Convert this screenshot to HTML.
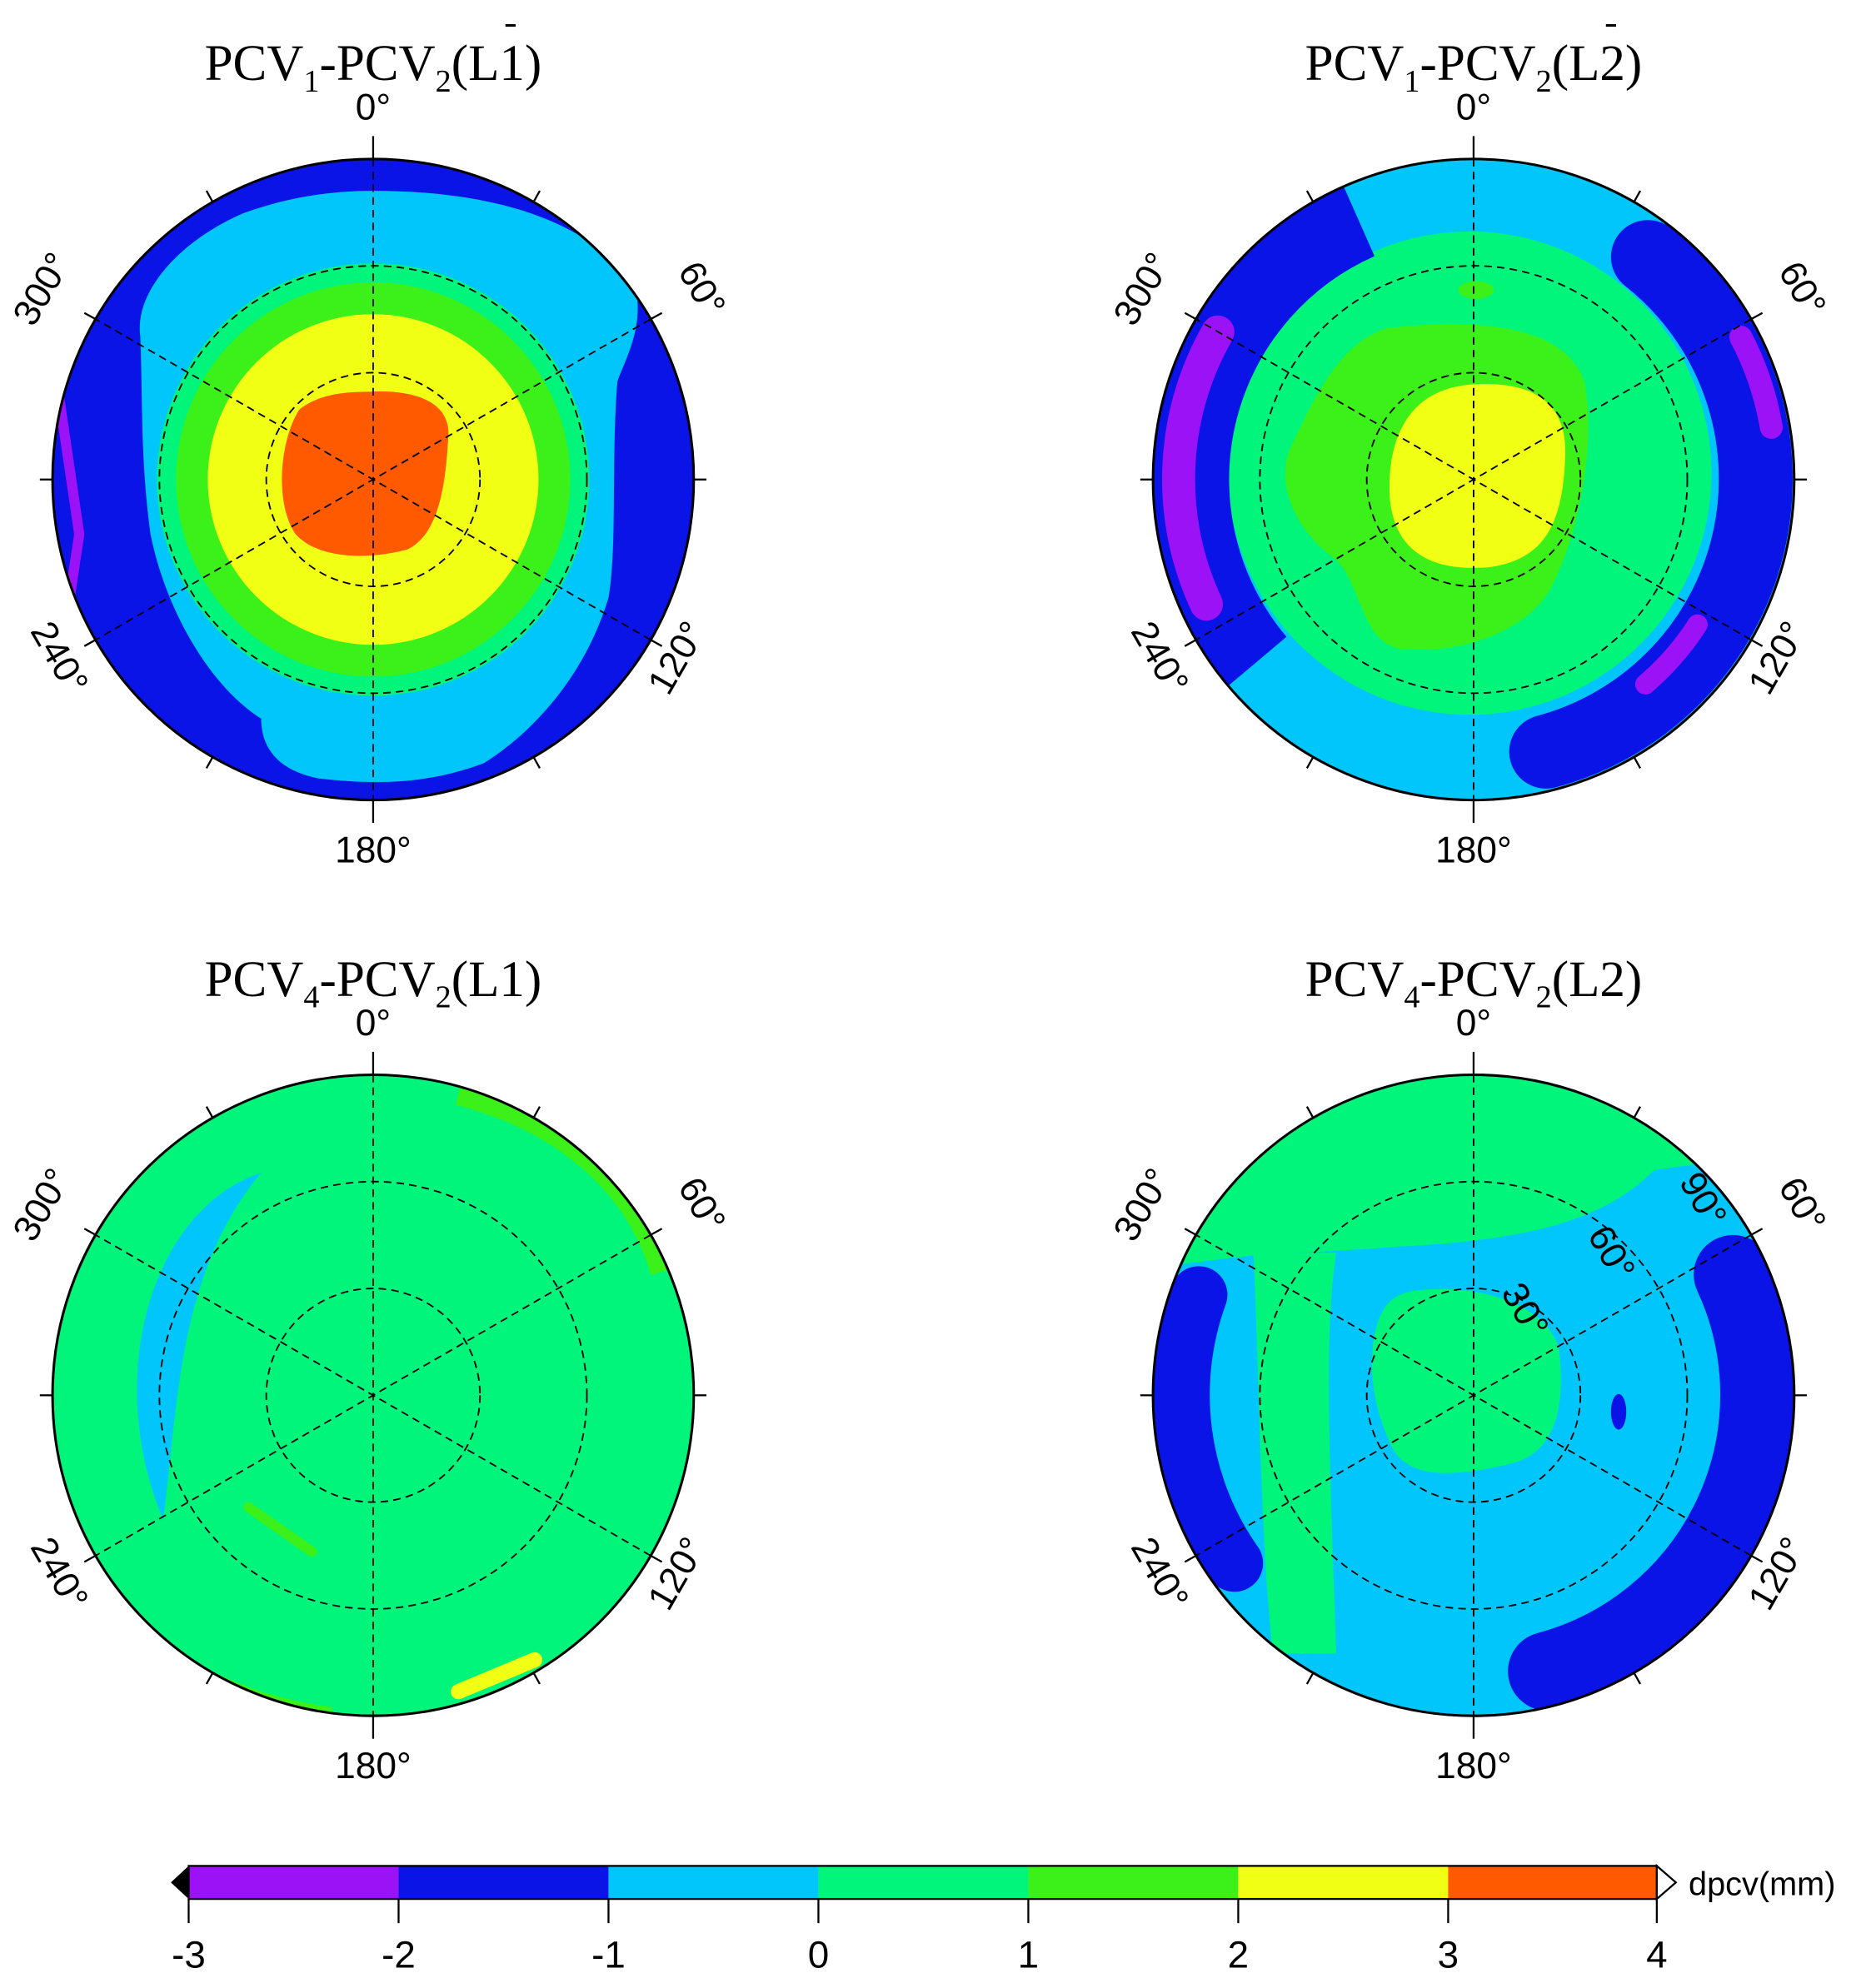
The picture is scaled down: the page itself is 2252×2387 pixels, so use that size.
<!DOCTYPE html>
<html><head><meta charset="utf-8"><style>
html,body{margin:0;padding:0;background:#fff;}
svg{display:block;}
text{font-family:"Liberation Sans",sans-serif;}
.t{font-family:"Liberation Serif",serif;font-size:40px;}
</style></head><body>
<svg width="2252" height="2387" viewBox="0 0 1474 1563" xmlns="http://www.w3.org/2000/svg">
<defs>
<clipPath id="c1"><circle cx="293" cy="377" r="252"/></clipPath>
<clipPath id="c2"><circle cx="1158" cy="377" r="252"/></clipPath>
<clipPath id="c3"><circle cx="293" cy="1097" r="252"/></clipPath>
<clipPath id="c4"><circle cx="1158" cy="1097" r="252"/></clipPath>
<g id="grid" fill="none" stroke="#000">
<circle cx="0" cy="0" r="84" stroke-dasharray="6,4" stroke-width="1.2"/>
<circle cx="0" cy="0" r="168" stroke-dasharray="6,4" stroke-width="1.2"/>
<line x1="0" y1="-252" x2="0" y2="252" stroke-dasharray="6,4" stroke-width="1.2"/>
<line x1="218" y1="-126" x2="-218" y2="126" stroke-dasharray="6,4" stroke-width="1.2"/>
<line x1="218" y1="126" x2="-218" y2="-126" stroke-dasharray="6,4" stroke-width="1.2"/>
<circle cx="0" cy="0" r="252" stroke-width="2"/>
<line x1="0" y1="-252" x2="0" y2="-270" stroke-width="1.5"/>
<line x1="0" y1="252" x2="0" y2="270" stroke-width="1.5"/>
<line x1="252" y1="0" x2="262" y2="0" stroke-width="1.5"/>
<line x1="-252" y1="0" x2="-262" y2="0" stroke-width="1.5"/>
<line x1="126" y1="-218" x2="131" y2="-227" stroke-width="1.5"/>
<line x1="-126" y1="-218" x2="-131" y2="-227" stroke-width="1.5"/>
<line x1="126" y1="218" x2="131" y2="227" stroke-width="1.5"/>
<line x1="-126" y1="218" x2="-131" y2="227" stroke-width="1.5"/>
<line x1="218" y1="-126" x2="227" y2="-131" stroke-width="1.5"/>
<line x1="-218" y1="-126" x2="-227" y2="-131" stroke-width="1.5"/>
<line x1="218" y1="126" x2="227" y2="131" stroke-width="1.5"/>
<line x1="-218" y1="126" x2="-227" y2="131" stroke-width="1.5"/>
</g>
<g id="lab" font-size="29" fill="#000">
<text x="0" y="-283" text-anchor="middle">0°</text>
<text x="0" y="301" text-anchor="middle">180°</text>
<text transform="translate(250,-145) rotate(60)" text-anchor="middle">60°</text>
<text transform="translate(247,145) rotate(-60)" text-anchor="middle">120°</text>
<text transform="translate(-252,-145) rotate(-60)" text-anchor="middle">300°</text>
<text transform="translate(-255,145) rotate(60)" text-anchor="middle">240°</text>
</g>
</defs>

<!-- Panel 1 -->
<g clip-path="url(#c1)">
<rect x="0" y="100" width="600" height="560" fill="#0a14e6"/>
<path d="M40,270 L62,420 L50,500" stroke="#9a12f5" stroke-width="8" fill="none"/>
<path d="M293,150 C390,150 470,175 500,230 C505,260 490,285 485,300 C480,360 485,430 478,470 C460,530 420,575 380,600 C340,615 300,618 250,612 C215,605 205,585 205,565 C165,540 130,480 118,420 C110,360 112,320 110,265 C105,230 140,190 190,168 C225,155 260,150 293,150 Z" fill="#00c6fb"/>
<circle cx="293" cy="377" r="170" fill="#00f57a"/>
<circle cx="293" cy="377" r="155" fill="#3cf01a"/>
<circle cx="293" cy="377" r="130" fill="#f0ff14"/>
<path d="M290,308 C330,306 355,318 352,345 C350,380 345,420 320,432 C290,440 250,440 232,420 C215,395 220,345 235,322 C250,310 270,308 290,308 Z" fill="#ff5a00"/>
</g>
<use href="#grid" x="293" y="377"/>
<use href="#lab" x="293" y="377"/>
<text class="t" x="293" y="63" text-anchor="middle">PCV<tspan font-size="25" dy="9">1</tspan><tspan dy="-9">-PCV</tspan><tspan font-size="25" dy="9">2</tspan><tspan dy="-9">(L1)</tspan></text>
<line x1="397" y1="20" x2="405" y2="20" stroke="#000" stroke-width="2"/>

<!-- Panel 2 -->
<g clip-path="url(#c2)">
<rect x="880" y="100" width="560" height="560" fill="#00c6fb"/>
<circle cx="1155" cy="372" r="190" fill="#00f57a"/>
<path d="M1090,258 C1160,250 1230,255 1245,300 C1255,350 1240,420 1220,460 C1200,500 1140,515 1100,510 C1070,505 1070,460 1050,440 C1020,420 1000,380 1015,350 C1030,320 1050,270 1090,258 Z" fill="#3cf01a"/>
<ellipse cx="1160" cy="228" rx="14" ry="7" fill="#3cf01a"/>
<path d="M1160,302 C1210,300 1232,320 1230,360 C1228,410 1215,440 1170,446 C1120,450 1095,430 1092,390 C1090,340 1110,304 1160,302 Z" fill="#f0ff14"/>
<path d="M1068,174 A222,222 0 0 0 988,520" stroke="#0a14e6" stroke-width="60" fill="none"/>
<path d="M1030,140 L950,180 L905,280" stroke="#0a14e6" stroke-width="30" fill="none"/>
<path d="M957,261 A232,232 0 0 0 948,475" stroke="#9a12f5" stroke-width="26" stroke-linecap="round" fill="none"/>
<path d="M1295,202 A222,222 0 0 1 1215,591" stroke="#0a14e6" stroke-width="58" stroke-linecap="round" fill="none"/>
<path d="M1368,265 A238,238 0 0 1 1392,336" stroke="#9a12f5" stroke-width="18" stroke-linecap="round" fill="none"/>
<path d="M1334,491 A210,210 0 0 1 1293,538" stroke="#9a12f5" stroke-width="16" stroke-linecap="round" fill="none"/>
</g>
<use href="#grid" x="1158" y="377"/>
<use href="#lab" x="1158" y="377"/>
<text class="t" x="1158" y="63" text-anchor="middle">PCV<tspan font-size="25" dy="9">1</tspan><tspan dy="-9">-PCV</tspan><tspan font-size="25" dy="9">2</tspan><tspan dy="-9">(L2)</tspan></text>
<line x1="1262" y1="20" x2="1270" y2="20" stroke="#000" stroke-width="2"/>

<!-- Panel 3 -->
<g clip-path="url(#c3)">
<rect x="0" y="820" width="600" height="560" fill="#00f57a"/>
<path d="M205,922 C120,950 80,1080 128,1195 C140,1100 140,1000 205,922 Z" fill="#00c6fb"/>
<path d="M360,860 C440,880 500,930 520,1000" stroke="#3cf01a" stroke-width="18" fill="none"/>
<path d="M60,1220 C100,1300 180,1340 260,1350" stroke="#3cf01a" stroke-width="16" fill="none"/>
<path d="M195,1185 L245,1220" stroke="#3cf01a" stroke-width="8" stroke-linecap="round"/>
<path d="M360,1330 L420,1305" stroke="#f0ff14" stroke-width="12" stroke-linecap="round"/>
</g>
<use href="#grid" x="293" y="1097"/>
<use href="#lab" x="293" y="1097"/>
<text class="t" x="293" y="783" text-anchor="middle">PCV<tspan font-size="25" dy="9">4</tspan><tspan dy="-9">-PCV</tspan><tspan font-size="25" dy="9">2</tspan><tspan dy="-9">(L1)</tspan></text>

<!-- Panel 4 -->
<g clip-path="url(#c4)">
<rect x="880" y="820" width="560" height="560" fill="#00c6fb"/>
<path d="M880,820 L1440,820 L1440,900 L1300,920 C1260,960 1200,975 1100,980 C1040,985 990,985 960,990 L880,1000 Z" fill="#00f57a"/>
<path d="M985,985 L1050,985 C1040,1050 1045,1150 1050,1300 L1000,1300 C990,1200 990,1100 985,985 Z" fill="#00f57a"/>
<path d="M930,1270 C980,1300 1040,1330 1100,1350 L900,1360 Z" fill="#00f57a"/>
<path d="M1110,1015 C1160,1008 1215,1025 1225,1060 C1230,1100 1225,1140 1190,1150 C1150,1160 1110,1165 1095,1140 C1080,1110 1075,1080 1080,1050 C1085,1025 1095,1018 1110,1015 Z" fill="#00f57a"/>
<path d="M1362,1002 A225,225 0 0 1 1216,1314" stroke="#0a14e6" stroke-width="62" stroke-linecap="round" fill="none"/>
<path d="M942,1018 A230,230 0 0 0 970,1229" stroke="#0a14e6" stroke-width="45" stroke-linecap="round" fill="none"/>
<ellipse cx="1272" cy="1110" rx="6" ry="14" fill="#0a14e6"/>
</g>
<use href="#grid" x="1158" y="1097"/>
<use href="#lab" x="1158" y="1097"/>
<g font-size="29">
<text transform="translate(1190,1035) rotate(60)" text-anchor="middle">30°</text>
<text transform="translate(1258,990) rotate(60)" text-anchor="middle">60°</text>
<text transform="translate(1330,948) rotate(60)" text-anchor="middle">90°</text>
</g>
<text class="t" x="1158" y="783" text-anchor="middle">PCV<tspan font-size="25" dy="9">4</tspan><tspan dy="-9">-PCV</tspan><tspan font-size="25" dy="9">2</tspan><tspan dy="-9">(L2)</tspan></text>

<!-- Colorbar -->
<g>
<rect x="148" y="1467" width="165" height="26" fill="#9a12f5"/>
<rect x="313" y="1467" width="165" height="26" fill="#0a14e6"/>
<rect x="478" y="1467" width="165" height="26" fill="#00c6fb"/>
<rect x="643" y="1467" width="165" height="26" fill="#00f57a"/>
<rect x="808" y="1467" width="165" height="26" fill="#3cf01a"/>
<rect x="973" y="1467" width="165" height="26" fill="#f0ff14"/>
<rect x="1138" y="1467" width="164" height="26" fill="#ff5a00"/>
<rect x="148" y="1467" width="1154" height="26" fill="none" stroke="#000" stroke-width="1.5"/>
<polygon points="148,1467 134,1480 148,1493" fill="#000"/>
<polygon points="1302,1467 1317,1480 1302,1493" fill="#fff" stroke="#000" stroke-width="1.5"/>
<g stroke="#000" stroke-width="1.5">
<line x1="148" y1="1493" x2="148" y2="1512"/><line x1="313" y1="1493" x2="313" y2="1512"/>
<line x1="478" y1="1493" x2="478" y2="1512"/><line x1="643" y1="1493" x2="643" y2="1512"/>
<line x1="808" y1="1493" x2="808" y2="1512"/><line x1="973" y1="1493" x2="973" y2="1512"/>
<line x1="1138" y1="1493" x2="1138" y2="1512"/><line x1="1302" y1="1493" x2="1302" y2="1512"/>
</g>
<g font-size="30" text-anchor="middle">
<text x="148" y="1547">-3</text><text x="313" y="1547">-2</text><text x="478" y="1547">-1</text>
<text x="643" y="1547">0</text><text x="808" y="1547">1</text><text x="973" y="1547">2</text>
<text x="1138" y="1547">3</text><text x="1302" y="1547">4</text>
</g>
<text x="1327" y="1490" font-size="26">dpcv(mm)</text>
</g>
</svg>
</body></html>
